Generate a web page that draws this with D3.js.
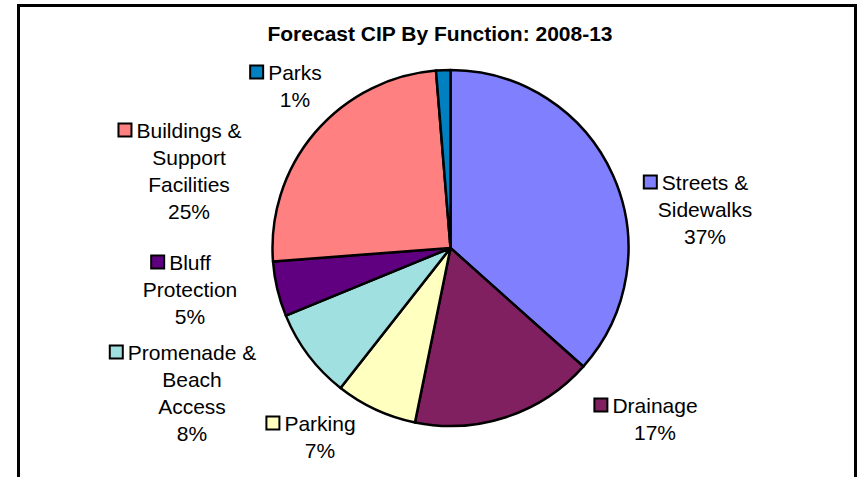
<!DOCTYPE html>
<html>
<head>
<meta charset="utf-8">
<script src="https://cdn.jsdelivr.net/npm/d3@7"></script>
<style>
  body { margin: 0; background: #fff; }
  text { font-family: "Liberation Sans", Arial, sans-serif; fill: #000; }
</style>
</head>
<body>
<div id="chart"></div>
<script>
// chart data
var categories = ["Streets & Sidewalks", "Drainage", "Parking", "Promenade & Beach Access",
  "Bluff Protection", "Buildings & Support Facilities", "Parks"];
var shares = [36.6, 16.6, 7.4, 8.2, 5.0, 24.9, 1.3];
var pctLabels = ["37%", "17%", "7%", "8%", "5%", "25%", "1%"];
var labelLines = [
  ["Streets &", "Sidewalks"],
  ["Drainage"],
  ["Parking"],
  ["Promenade &", "Beach", "Access"],
  ["Bluff", "Protection"],
  ["Buildings &", "Support", "Facilities"],
  ["Parks"]
];
var colors = ["#8080ff", "#802060", "#ffffc0", "#a0e0e0", "#600080", "#ff8080", "#0080c0"];

// where each data label sits (centre x of text, centre y of first line)
var labelPos = [[705, 182], [655, 405], [320, 423], [192, 352], [190, 262], [189, 130], [295, 72]];

var width = 860;
var height = 477;
var cx = 450.5;
var cy = 248;
var radius = 178;
var lineGap = 27;

var svg = d3.select("#chart")
  .append("svg")
  .attr("width", width)
  .attr("height", height);

// chart frame
svg.append("rect")
  .attr("x", 18.5)
  .attr("y", 5.5)
  .attr("width", 837)
  .attr("height", 490)
  .attr("fill", "#fff")
  .attr("stroke", "#000")
  .attr("stroke-width", 3);

// title
svg.append("text")
  .attr("x", 440)
  .attr("y", 41)
  .attr("text-anchor", "middle")
  .attr("font-weight", "bold")
  .attr("font-size", 21)
  .text("Forecast CIP By Function: 2008-13");

var pie = d3.pie().sort(null).value(function (d) { return d; });
var arc = d3.arc().innerRadius(0).outerRadius(radius);

var slices = pie(shares);

svg.append("g")
  .attr("transform", "translate(" + cx + "," + cy + ")")
  .selectAll("path")
  .data(slices)
  .enter()
  .append("path")
  .attr("d", arc)
  .attr("fill", function (d, i) { return colors[i]; })
  .attr("stroke", "#000")
  .attr("stroke-width", 2.5)
  .attr("stroke-linejoin", "round");

// data labels with legend key
var labels = svg.append("g").attr("class", "labels");

categories.forEach(function (name, i) {
  var g = labels.append("g");
  var lx = labelPos[i][0];
  var ly = labelPos[i][1];
  var lines = labelLines[i].concat([pctLabels[i]]);

  var first;
  lines.forEach(function (t, j) {
    var txt = g.append("text")
      .attr("x", lx)
      .attr("y", ly + j * lineGap)
      .attr("dy", "0.36em")
      .attr("text-anchor", "middle")
      .attr("font-size", 21)
      .text(t);
    if (j === 0) first = txt;
  });

  var w = first.node().getComputedTextLength();
  g.append("rect")
    .attr("x", lx - w / 2 - 18)
    .attr("y", ly - 6.5)
    .attr("width", 13)
    .attr("height", 13)
    .attr("fill", colors[i])
    .attr("stroke", "#000")
    .attr("stroke-width", 2);
});
</script>
</body>
</html>
